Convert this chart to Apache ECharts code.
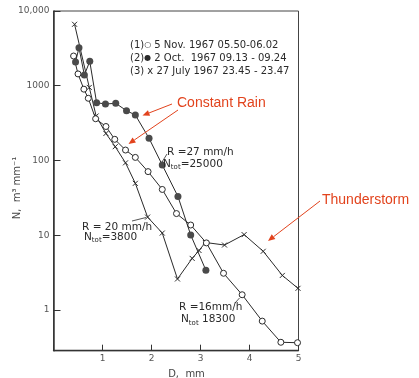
<!DOCTYPE html>
<html>
<head>
<meta charset="utf-8">
<script src="https://cdn.jsdelivr.net/npm/echarts@6/dist/echarts.min.js"></script>
<style>
  html, body { margin: 0; padding: 0; background: #fff; }
  #chart { width: 419px; height: 378px; }
</style>
</head>
<body>
<div id="chart"></div>
<script>
// drop diameter D (mm) and concentration N (m^-3 mm^-1)
const novD = [0.41, 0.50, 0.62, 0.71, 0.86, 1.07, 1.25, 1.47, 1.67, 1.93, 2.22, 2.51, 2.80, 3.12, 3.47, 3.85, 4.26, 4.64, 4.98];
const novN = [2500, 1440, 900, 680, 362, 285, 192, 138, 110, 71, 41, 19.5, 13.7, 7.9, 3.1, 1.6, 0.71, 0.37, 0.365];

const octD = [0.45, 0.52, 0.63, 0.74, 0.88, 1.06, 1.27, 1.49, 1.67, 1.95, 2.22, 2.54, 2.80, 3.11];
const octN = [2080, 3230, 1390, 2120, 593, 570, 582, 464, 406, 198, 87, 33, 10.1, 3.4];

const julD = [0.43, 0.73, 0.87, 1.07, 1.26, 1.47, 1.67, 1.92, 2.22, 2.53, 2.83, 2.97, 3.10, 3.49, 3.89, 4.28, 4.67, 4.99];
const julN = [6640, 950, 394, 230, 153, 93, 49.5, 17.5, 10.7, 2.6, 4.9, 6.25, 8.0, 7.4, 10.2, 6.1, 2.9, 1.95];

// tick labels
const xTickLabels = ['', '1', '2', '3', '4', '5'];
const yTickLabels = ['1', '10', '100', '1000', '10,000']; // 10^0 .. 10^4

const legendLines = [
  '(1){o|○} 5 Nov. 1967 05.50-06.02',
  '(2){o|●} 2 Oct.  1967 09.13 - 09.24',
  '(3) x 27 July 1967 23.45 - 23.47',
];

const red = '#e2431d';
const ink = '#2a2a2a';

const zip = (xs, ys) => xs.map((x, i) => [x, ys[i]]);

function arrow(x1, y1, x2, y2) {
  const a = Math.atan2(y2 - y1, x2 - x1);
  const L = 7, W = 3;
  const bx = x2 - L * Math.cos(a), by = y2 - L * Math.sin(a);
  return [
    { type: 'line', z: 100, shape: { x1: x1, y1: y1, x2: bx, y2: by }, style: { stroke: red, lineWidth: 1 } },
    {
      type: 'polygon', z: 100,
      shape: { points: [[x2, y2], [bx + W * Math.sin(a), by - W * Math.cos(a)], [bx - W * Math.sin(a), by + W * Math.cos(a)]] },
      style: { fill: red },
    },
  ];
}

function txt(x, y, text, extra, font) {
  return {
    type: 'text', z: 100,
    style: Object.assign({
      x: x, y: y, text: text,
      font: font || '10.5px "DejaVu Sans"', fill: ink,
      textVerticalAlign: 'middle',
      rich: {
        s: { fontSize: 7, fontFamily: 'DejaVu Sans', fill: ink, padding: [7, 0, 0, 0] },
        o: { fontSize: 8, fontFamily: 'DejaVu Sans', fill: ink },
      },
    }, extra || {}),
  };
}

const leader = (x1, y1, x2, y2) => ({ type: 'line', z: 100, shape: { x1, y1, x2, y2 }, style: { stroke: ink, lineWidth: 0.8 } });

const myChart = echarts.init(document.getElementById('chart'));

const option = {
  animation: false,
  backgroundColor: '#fff',
  grid: {
    left: 53.5, right: 120.5, top: 11, bottom: 27.3,
    show: true, borderColor: '#444', borderWidth: 1,
  },
  xAxis: {
    type: 'value', min: 0, max: 5, interval: 1,
    axisLine: { lineStyle: { color: '#333', width: 1.3 } },
    axisTick: { inside: true, length: 6, lineStyle: { color: '#333' } },
    axisLabel: {
      margin: 3, color: '#555', fontSize: 9, fontFamily: 'DejaVu Sans',
      formatter: (v) => xTickLabels[Math.round(v)] || '',
    },
    splitLine: { show: false },
  },
  yAxis: {
    type: 'log', logBase: 10, min: 0.2854, max: 10000,
    axisLine: { lineStyle: { color: '#333', width: 1.5 } },
    axisTick: { inside: true, length: 7, lineStyle: { color: '#333' } },
    axisLabel: {
      margin: 4, color: '#555', fontSize: 9, fontFamily: 'DejaVu Sans',
      formatter: (v) => {
        const e = Math.log10(v);
        if (Math.abs(e - Math.round(e)) > 1e-6) return '';
        return yTickLabels[Math.round(e)] || '';
      },
    },
    splitLine: { show: false },
  },
  series: [
    {
      name: '5 Nov. 1967', type: 'line', data: zip(novD, novN),
      symbol: 'circle', symbolSize: 6, z: 3,
      lineStyle: { color: ink, width: 1 },
      itemStyle: { color: '#fff', borderColor: ink, borderWidth: 1 },
    },
    {
      name: '2 Oct. 1967', type: 'line', data: zip(octD, octN),
      symbol: 'circle', symbolSize: 7, z: 4,
      lineStyle: { color: ink, width: 1 },
      itemStyle: { color: '#4a4a4a', borderWidth: 0 },
    },
    {
      name: '27 July 1967', type: 'line', data: zip(julD, julN),
      symbol: 'path://M0,0L10,10M10,0L0,10', symbolSize: 5, z: 2,
      lineStyle: { color: ink, width: 1 },
      itemStyle: { color: 'none', borderColor: ink, borderWidth: 1 },
    },
  ],
  graphic: [
    // legend block inside the frame
    txt(130, 45, legendLines[0], null, '10px "DejaVu Sans"'),
    txt(130, 58, legendLines[1], null, '10px "DejaVu Sans"'),
    txt(130, 71, legendLines[2], null, '10px "DejaVu Sans"'),
    // rain-rate notes
    txt(167, 152.5, 'R =27 mm/h'),
    txt(163, 164, 'N{s|tot}=25000'),
    leader(162, 162, 167, 154),
    txt(82, 227.5, 'R = 20 mm/h'),
    txt(84, 237, 'N{s|tot}=3800'),
    leader(132, 221, 146, 217.5),
    txt(179, 307, 'R =16mm/h'),
    txt(181, 319.5, 'N{s|tot} 18300'),
    leader(235, 303, 239.5, 298),
    // axis titles
    txt(186.5, 374, 'D,  mm', { textAlign: 'center', fill: '#444' }, '10px "DejaVu Sans"'),
    {
      type: 'text', z: 100, x: 17, y: 188, rotation: Math.PI / 2,
      style: { text: 'N,  m³ mm⁻¹', font: '10px "DejaVu Sans"', fill: '#444', textAlign: 'center', textVerticalAlign: 'middle' },
    },
    // red callouts
    txt(177, 103, 'Constant Rain', { fill: red }, '14px "Liberation Sans"'),
    txt(322, 200, 'Thunderstorm', { fill: red }, '14px "Liberation Sans"'),
    ...arrow(172, 104, 142.5, 115.5),
    ...arrow(178, 110, 128.5, 144),
    ...arrow(320, 201, 268, 241),
  ],
};

myChart.setOption(option);
</script>
</body>
</html>
